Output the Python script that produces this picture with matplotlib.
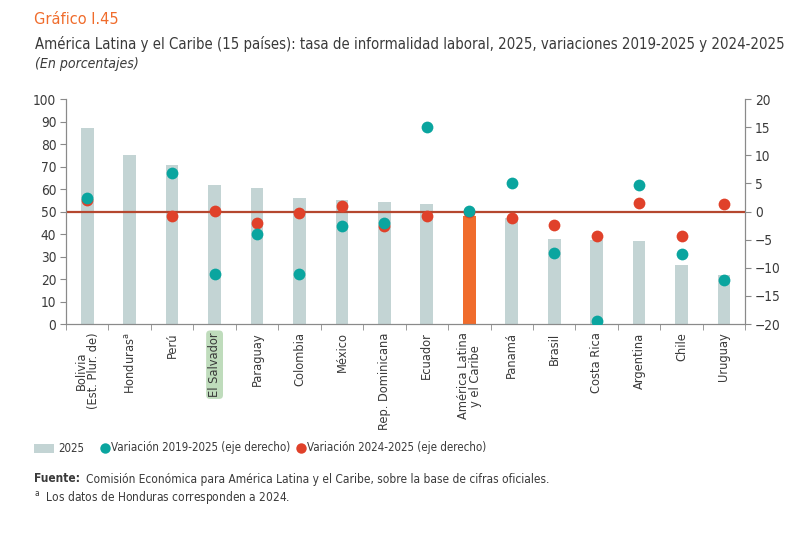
import numpy as np
import matplotlib
matplotlib.use("Agg")
import matplotlib.pyplot as plt
from matplotlib import font_manager
from matplotlib.patches import Rectangle
from matplotlib.lines import Line2D

# buscar una fuente estrecha si la hay
estrechas = sorted({f.name for f in font_manager.fontManager.ttflist
                    if f.stretch not in ("normal", 500, "medium")
                    or "Narrow" in f.name or "Condensed" in f.name})
condensada = [f for f in font_manager.fontManager.ttflist
              if f.name == "DejaVu Sans" and "Condensed" in f.fname]
if condensada:
    FONT = ["DejaVu Sans"]
    plt.rcParams["font.stretch"] = "condensed"
elif estrechas:
    FONT = [estrechas[0], "DejaVu Sans"]
else:
    FONT = ["Roboto", "DejaVu Sans"]
plt.rcParams["font.family"] = FONT
plt.rcParams["mathtext.fontset"] = "custom"
plt.rcParams["mathtext.rm"] = FONT[0]

# datos
paises = ["Bolivia\n(Est. Plur. de)", r"Honduras$^{\mathrm{a}}$", "Perú", "El Salvador",
          "Paraguay", "Colombia", "México", "Rep. Dominicana", "Ecuador",
          "América Latina\ny el Caribe", "Panamá", "Brasil", "Costa Rica",
          "Argentina", "Chile", "Uruguay"]
tasa_2025 = [87.0, 75.1, 70.7, 62.0, 60.5, 55.9, 55.0, 54.3, 53.3,
             48.2, 47.3, 38.0, 37.3, 36.8, 26.3, 22.0]
var_2019_2025 = [2.4, None, 6.8, -11.1, -4.0, -11.1, -2.6, -2.1, 15.0,
                 0.1, 5.0, -7.3, -19.5, 4.7, -7.6, -12.1]
var_2024_2025 = [2.0, None, -0.7, 0.1, -2.0, -0.3, 1.0, -2.5, -0.7,
                 0.0, -1.1, -2.4, -4.4, 1.5, -4.4, 1.3]

GRIS = "#c3d4d4"
NARANJA = "#f06c2c"
TEAL = "#0aa59f"
ROJO = "#e0412a"
LINEA = "#b5472f"
TXT = "#3a3a3a"
EJE = "#8a8a8a"

W, H = 800, 533


def fx(px):
    return px / W


def fy(py):
    return 1 - py / H


x = np.arange(len(paises))
colores = [NARANJA if "Caribe" in p else GRIS for p in paises]
v1 = np.array([np.nan if v is None else v for v in var_2019_2025])
v2 = np.array([np.nan if v is None else v for v in var_2024_2025])

fig = plt.figure(figsize=(8, 5.33), dpi=100)
ax = fig.add_axes([0.0825, 0.392, 0.849, 0.422])
ax.bar(x, tasa_2025, width=0.3, color=colores, zorder=1)
ax.set_ylim(0, 100)
ax.set_xlim(-0.5, len(paises) - 0.5)
ax.set_yticks(np.arange(0, 101, 10))

ax2 = ax.twinx()
ax2.set_ylim(-20, 20)
ax2.set_yticks(np.arange(-20, 21, 5))
ax2.axhline(0, color=LINEA, lw=1.6, zorder=1)
ax2.scatter(x, v2, s=72, color=ROJO, zorder=3, linewidths=0)
ax2.scatter(x, v1, s=72, color=TEAL, zorder=4, linewidths=0)

for a in (ax, ax2):
    a.spines["top"].set_visible(False)
    for s in a.spines.values():
        s.set_color(EJE)
        s.set_linewidth(0.8)
    a.tick_params(axis="y", direction="out", length=4, color=EJE,
                  labelsize=9.8, labelcolor=TXT, pad=3)

ax.set_xticks(x)
ax.set_xticklabels(paises, rotation=90, va="top", ha="center",
                   multialignment="center", fontsize=9.2, color=TXT, linespacing=0.95)
ax.tick_params(axis="x", length=0, pad=6)
ax.set_xticks(np.arange(-0.5, len(paises), 1), minor=True)
ax.tick_params(axis="x", which="minor", length=4, color=EJE, direction="out")
for lbl in ax.get_xticklabels():
    if lbl.get_text() == "El Salvador":
        lbl.set_bbox(dict(boxstyle="round,pad=0.15,rounding_size=0.3",
                          fc="#bfdcbc", ec="none"))

# titulos
fig.text(fx(34), fy(20), "Gráfico I.45", color=NARANJA, fontsize=11.7,
         va="center", ha="left")
sub = fig.text(fx(35), fy(44),
               "América Latina y el Caribe (15 países): tasa de informalidad laboral, 2025, "
               "variaciones 2019-2025 y 2024-2025",
               color=TXT, fontsize=12.5, va="center", ha="left")
fig.text(fx(35), fy(64), "(En porcentajes)", color=TXT, fontsize=10.1,
         style="italic", va="center", ha="left")

# ajustar el subtitulo al ancho del original (36 a 781 px)
fig.canvas.draw()
ancho = sub.get_window_extent().width
sub.set_fontsize(12.5 * min(1.0, 746 / ancho))

# leyenda
fs_ley = 8.3
fig.add_artist(Rectangle((fx(34), fy(453)), fx(54) - fx(34), fy(444) - fy(453),
                         transform=fig.transFigure, color=GRIS, lw=0))
fig.text(fx(58), fy(448), "2025", color=TXT, fontsize=fs_ley, va="center", ha="left")
for cx, col, txt in [(105, TEAL, "Variación 2019-2025 (eje derecho)"),
                     (301, ROJO, "Variación 2024-2025 (eje derecho)")]:
    fig.add_artist(Line2D([fx(cx)], [fy(448)], transform=fig.transFigure,
                          marker="o", ls="", color=col, markersize=7.5, mew=0))
    fig.text(fx(cx + 6), fy(448), txt, color=TXT, fontsize=fs_ley, va="center", ha="left")

# fuente
fs_fte = 8.6
t = fig.text(fx(34), fy(479), "Fuente:", color=TXT, fontsize=fs_fte,
             fontweight="bold", va="center", ha="left")
fig.canvas.draw()
bb = t.get_window_extent()
fig.text((bb.x1 + 6) / W, fy(479),
         "Comisión Económica para América Latina y el Caribe, sobre la base de cifras oficiales.",
         color=TXT, fontsize=fs_fte, va="center", ha="left")
fig.text(fx(34), fy(497),
         r"$^{\mathrm{a}}$  Los datos de Honduras corresponden a 2024.",
         color=TXT, fontsize=fs_fte, va="center", ha="left")

fig.savefig("out.png", dpi=100)
